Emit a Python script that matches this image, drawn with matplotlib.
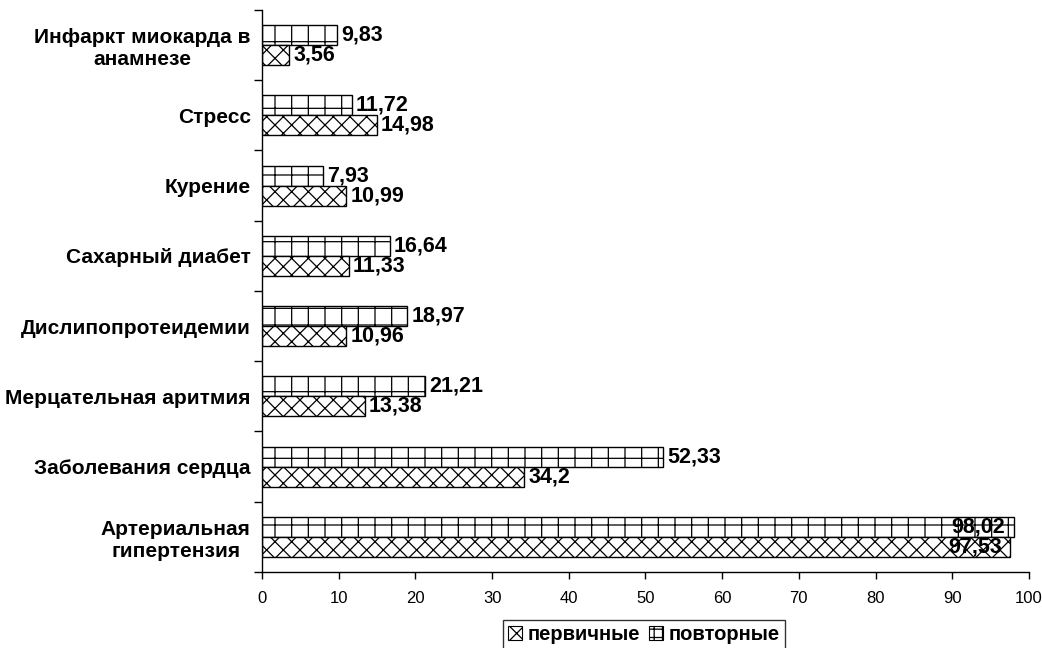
import numpy as np
import matplotlib.pyplot as plt
from matplotlib.patches import Patch

plt.rcParams['font.family'] = ['Liberation Sans', 'DejaVu Sans']
plt.rcParams['hatch.linewidth'] = 0.9
plt.rcParams['hatch.color'] = '#222222'

# risk factors, bottom to top
categories = [
    'Артериальная\nгипертензия',
    'Заболевания сердца',
    'Мерцательная аритмия',
    'Дислипопротеидемии',
    'Сахарный диабет',
    'Курение',
    'Стресс',
    'Инфаркт миокарда в\nанамнезе',
]
primary = [97.53, 34.2, 13.38, 10.96, 11.33, 10.99, 14.98, 3.56]
repeat = [98.02, 52.33, 21.21, 18.97, 16.64, 7.93, 11.72, 9.83]
primary_name = 'первичные'
repeat_name = 'повторные'
x_ticks = [0, 10, 20, 30, 40, 50, 60, 70, 80, 90, 100]


def fmt(v):
    return f'{v:g}'.replace('.', ',')


fig = plt.figure(figsize=(10.42, 6.48), dpi=100)
ax = fig.add_axes([0.2514, 0.1173, 0.9875 - 0.2514, 0.9846 - 0.1173])

y = np.arange(len(categories))
h = 0.285
bars_rep = ax.barh(y + h / 2, repeat, height=h, color='white', edgecolor='black',
                   linewidth=1.0, hatch='+')
bars_pri = ax.barh(y - h / 2, primary, height=h, color='white', edgecolor='black',
                   linewidth=1.0, hatch='xx')

# value labels: at bar end, pulled inside when the bar nearly fills the axis
for bars, vals in ((bars_rep, repeat), (bars_pri, primary)):
    for b, v in zip(bars, vals):
        cy = b.get_y() + b.get_height() / 2
        if v > 90:
            ax.annotate(fmt(v), (v, cy), xytext=(-6, 0), textcoords='offset points',
                        ha='right', va='center', fontsize=15.5, fontweight='bold')
        else:
            ax.annotate(fmt(v), (v, cy), xytext=(3, 0), textcoords='offset points',
                        ha='left', va='center', fontsize=15.5, fontweight='bold')

ax.set_xlim(0, 100)
ax.set_ylim(-0.5, len(categories) - 0.5)
ax.set_xticks(x_ticks)
ax.set_xticklabels([str(t) for t in x_ticks], fontsize=12)
ax.tick_params(axis='x', direction='out', length=5, width=1, pad=9)

ax.set_yticks(y)
ax.set_yticklabels(categories, fontsize=15, fontweight='bold')
for lbl in ax.get_yticklabels():
    lbl.set_multialignment('center')
ax.set_yticks(np.arange(-0.5, len(categories)), minor=True)
ax.tick_params(axis='y', which='major', length=0, pad=8)
ax.tick_params(axis='y', which='minor', direction='out', length=6, width=1)

for s in ('top', 'right'):
    ax.spines[s].set_visible(False)
for s in ('left', 'bottom'):
    ax.spines[s].set_linewidth(1)

handles = [Patch(facecolor='white', edgecolor='black', hatch='xx', linewidth=0.8),
           Patch(facecolor='white', edgecolor='black', hatch='++', linewidth=0.8)]
leg = fig.legend(handles, [primary_name, repeat_name], loc='upper center',
                 bbox_to_anchor=(0.618, 0.0432), ncol=2, frameon=True,
                 fancybox=False, edgecolor='black', handlelength=0.7,
                 handleheight=0.7, handletextpad=0.3, columnspacing=0.4,
                 borderpad=0.25, borderaxespad=0,
                 prop={'size': 14.5, 'weight': 'bold'})
leg.get_frame().set_linewidth(1)

fig.savefig('out.png', dpi=100)
